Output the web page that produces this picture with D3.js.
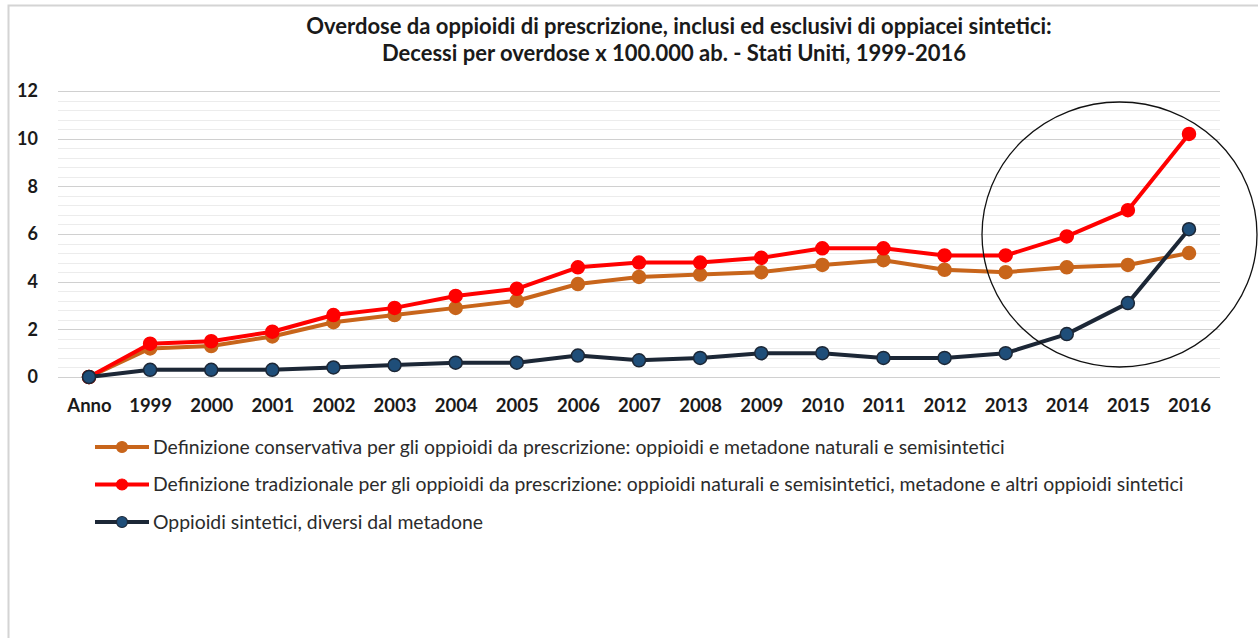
<!DOCTYPE html>
<html>
<head>
<meta charset="utf-8">
<script src="https://cdn.jsdelivr.net/npm/d3@7"></script>
<style>
  body { margin: 0; background: #fff; }
  text { font-family: Lato, "Open Sans", sans-serif; }
</style>
</head>
<body>
<div id="chart-area"></div>
<script>
// dati
const anni = ["Anno", "1999", "2000", "2001", "2002", "2003", "2004", "2005", "2006", "2007",
              "2008", "2009", "2010", "2011", "2012", "2013", "2014", "2015", "2016"];
const conservativa = [0, 1.2, 1.3, 1.7, 2.3, 2.6, 2.9, 3.2, 3.9, 4.2, 4.3, 4.4, 4.7, 4.9, 4.5, 4.4, 4.6, 4.7, 5.2];
const tradizionale = [0, 1.4, 1.5, 1.9, 2.6, 2.9, 3.4, 3.7, 4.6, 4.8, 4.8, 5.0, 5.4, 5.4, 5.1, 5.1, 5.9, 7.0, 10.2];
const sintetici    = [0, 0.3, 0.3, 0.3, 0.4, 0.5, 0.6, 0.6, 0.9, 0.7, 0.8, 1.0, 1.0, 0.8, 0.8, 1.0, 1.8, 3.1, 6.2];
const yTicks = [0, 2, 4, 6, 8, 10, 12];

const serie = [
    { nome: "Definizione conservativa per gli oppioidi da prescrizione: oppioidi e metadone naturali e semisintetici",
      valori: conservativa, linea: "#c8651b", punto: "#c8651b", bordo: "#c8651b" },
    { nome: "Definizione tradizionale per gli oppioidi da prescrizione: oppioidi naturali e semisintetici, metadone e altri oppioidi sintetici",
      valori: tradizionale, linea: "#ff0000", punto: "#ff0000", bordo: "#ff0000" },
    { nome: "Oppioidi sintetici, diversi dal metadone",
      valori: sintetici, linea: "#1c2736", punto: "#1f4e79", bordo: "#1c2736" }
];

const width = 1258;
const height = 638;

const svg = d3.select("#chart-area")
    .append("svg")
    .attr("width", width)
    .attr("height", height);

// cornice
svg.append("path")
    .attr("d", "M8.5," + height + " V5.5 H" + width)
    .attr("fill", "none")
    .attr("stroke", "#d4d4d4")
    .attr("stroke-width", 2);

// titolo
svg.append("text")
    .attr("x", 679).attr("y", 34)
    .attr("text-anchor", "middle")
    .attr("font-size", 22).attr("font-weight", "bold").attr("fill", "#1a1a1a")
    .text("Overdose da oppioidi di prescrizione, inclusi ed esclusivi di oppiacei sintetici:");
svg.append("text")
    .attr("x", 674).attr("y", 61)
    .attr("text-anchor", "middle")
    .attr("font-size", 22).attr("font-weight", "bold").attr("fill", "#1a1a1a")
    .text("Decessi per overdose x 100.000 ab. - Stati Uniti, 1999-2016");

const x = d3.scalePoint()
    .domain(anni)
    .range([89, 1189]);

const y = d3.scaleLinear()
    .domain([0, 12])
    .range([377, 91]);

// griglia minore e maggiore
svg.append("g")
    .selectAll("line")
    .data(d3.range(0, 12.01, 0.4))
    .enter()
    .append("line")
    .attr("x1", 58).attr("x2", 1220)
    .attr("y1", d => Math.round(y(d)) + 0.5)
    .attr("y2", d => Math.round(y(d)) + 0.5)
    .attr("stroke", d => Math.abs(d / 2 - Math.round(d / 2)) < 0.01 ? "#d0d0d0" : "#ececec")
    .attr("stroke-width", 1);

// asse y
const yAxis = svg.append("g")
    .attr("transform", "translate(38,0)")
    .call(d3.axisLeft(y).tickValues(yTicks).tickSize(0).tickPadding(0));
yAxis.select(".domain").remove();
yAxis.selectAll("text")
    .attr("font-size", 18).attr("font-weight", "bold").attr("fill", "#1a1a1a")
    .attr("font-family", "Lato, 'Open Sans', sans-serif");

// asse x
const xAxis = svg.append("g")
    .attr("transform", "translate(0,395)")
    .call(d3.axisBottom(x).tickSize(0).tickPadding(0));
xAxis.select(".domain").remove();
xAxis.selectAll("text")
    .attr("dy", "0.9em")
    .attr("font-size", 18.5).attr("font-weight", "bold").attr("fill", "#1a1a1a")
    .attr("font-family", "Lato, 'Open Sans', sans-serif");

const line = d3.line()
    .x((d, i) => x(anni[i]))
    .y(d => y(d));

serie.forEach(s => {
    const g = svg.append("g");
    g.append("path")
        .datum(s.valori)
        .attr("d", line)
        .attr("fill", "none")
        .attr("stroke", s.linea)
        .attr("stroke-width", 4)
        .attr("stroke-linejoin", "round");
    g.selectAll("circle")
        .data(s.valori)
        .enter()
        .append("circle")
        .attr("cx", (d, i) => x(anni[i]))
        .attr("cy", d => y(d))
        .attr("r", 6.5)
        .attr("fill", s.punto)
        .attr("stroke", s.bordo)
        .attr("stroke-width", 1.5);
});

// cerchio di evidenziazione
svg.append("ellipse")
    .attr("cx", 1119.5).attr("cy", 234.5)
    .attr("rx", 137.5).attr("ry", 132.5)
    .attr("fill", "none")
    .attr("stroke", "#111")
    .attr("stroke-width", 1.3);

// legenda
const legenda = svg.append("g")
    .selectAll("g")
    .data(serie)
    .enter()
    .append("g")
    .attr("transform", (d, i) => "translate(95," + (447 + i * 37.5) + ")");
legenda.append("line")
    .attr("x1", 0).attr("x2", 54)
    .attr("stroke", d => d.linea)
    .attr("stroke-width", 4);
legenda.append("circle")
    .attr("cx", 27).attr("r", 5.5)
    .attr("fill", d => d.punto)
    .attr("stroke", d => d.bordo)
    .attr("stroke-width", 1.2);
legenda.append("text")
    .attr("x", 58).attr("dy", "0.35em")
    .attr("font-size", 19.4).attr("fill", "#2b2b2b")
    .text(d => d.nome);
</script>
</body>
</html>
